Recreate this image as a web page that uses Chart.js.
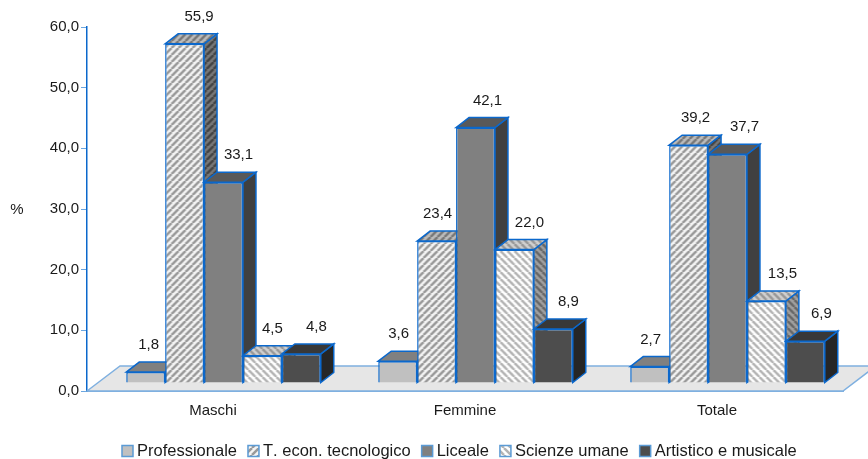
<!DOCTYPE html>
<html>
<head>
<meta charset="utf-8">
<title>Grafico</title>
<script src="https://cdn.jsdelivr.net/npm/chart.js@4"></script>
<style>
	html, body { margin: 0; padding: 0; background: #fff; }
	#box { width: 868px; height: 459px; }
</style>
</head>
<body>
<div id="box"><canvas id="chart"></canvas></div>
<script>
var categories = ['Maschi', 'Femmine', 'Totale'];
var seriesNames = ['Professionale', 'T. econ. tecnologico', 'Liceale', 'Scienze umane', 'Artistico e musicale'];
var professionale = [1.8, 3.6, 2.7];
var tecnologico = [55.9, 23.4, 39.2];
var liceale = [33.1, 42.1, 37.7];
var scienze = [4.5, 22.0, 13.5];
var artistico = [4.8, 8.9, 6.9];
var yTicks = [0, 10, 20, 30, 40, 50, 60];

var BLUE = '#0b68cc';
var FONT = '15px "Liberation Sans", Arial, sans-serif';
var LEGEND_FONT = '16.5px "Liberation Sans", Arial, sans-serif';

// 3d look: where the bars sit on the floor and how deep they are
var shift = { x: 10.5, y: -8 };
var depth = { x: 13, y: -10 };
var floorDepth = { x: 33, y: -25 };

// value labels were placed by hand in the original, x offset from the bar centre
var labelNudge = [[3, 1, 1], [14.5, 1, 7], [15, 12, 17], [10, 15, 16], [15, 15, 16]];

// stripes on a small tile, dir 1 is "/" and -1 is "\"
function hatch(bg, fg, dir) {
	var size = 7;
	var tile = document.createElement('canvas');
	tile.width = size;
	tile.height = size;
	var c = tile.getContext('2d');
	c.fillStyle = bg;
	c.fillRect(0, 0, size, size);
	c.strokeStyle = fg;
	c.lineWidth = 2.5;
	for (var i = -size; i <= size * 2; i += size) {
		c.beginPath();
		if (dir > 0) {
			c.moveTo(i, size);
			c.lineTo(i + size, 0);
		} else {
			c.moveTo(i, 0);
			c.lineTo(i + size, size);
		}
		c.stroke();
	}
	return document.createElement('canvas').getContext('2d').createPattern(tile, 'repeat');
}

var fronts = ['#c0c0c0', hatch('#f4f4f4', '#999999', 1), '#808080', hatch('#ffffff', '#b4b4b4', -1), '#4d4d4d'];
var tops = ['#808080', hatch('#bcbcbc', '#787878', 1), '#595959', hatch('#d0d0d0', '#989898', -1), '#383838'];
var sides = ['#606060', hatch('#787878', '#444444', 1), '#404040', hatch('#a0a0a0', '#686868', -1), '#262626'];
var values = [professionale, tecnologico, liceale, scienze, artistico];

function face(ctx, points, fill) {
	ctx.beginPath();
	ctx.moveTo(points[0][0], points[0][1]);
	for (var i = 1; i < points.length; i++) {
		ctx.lineTo(points[i][0], points[i][1]);
	}
	ctx.closePath();
	ctx.fillStyle = fill;
	ctx.fill();
	ctx.lineWidth = 1.5;
	ctx.strokeStyle = BLUE;
	ctx.stroke();
}

function drawFloor(chart) {
	var ctx = chart.ctx;
	var a = chart.chartArea;
	var backY = a.bottom + floorDepth.y;
	ctx.beginPath();
	ctx.moveTo(a.left, a.bottom);
	ctx.lineTo(a.left + floorDepth.x, backY);
	ctx.lineTo(a.right + floorDepth.x, backY);
	ctx.lineTo(a.right, a.bottom);
	ctx.closePath();
	ctx.fillStyle = '#e6e6e6';
	ctx.fill();
	ctx.lineWidth = 1.5;
	ctx.strokeStyle = '#7fb0e0';
	ctx.stroke();
}

function drawBars(chart) {
	var ctx = chart.ctx;
	ctx.save();
	ctx.translate(shift.x, shift.y);
	chart.data.datasets.forEach(function(ds, d) {
		chart.getDatasetMeta(d).data.forEach(function(bar, i) {
			var half = bar.width / 2;
			var l = bar.x - half, r = bar.x + half, t = bar.y, b = bar.base;
			face(ctx, [[r, t], [r + depth.x, t + depth.y], [r + depth.x, b + depth.y], [r, b]], sides[d]);
			face(ctx, [[l, t], [l + depth.x, t + depth.y], [r + depth.x, t + depth.y], [r, t]], tops[d]);
			bar.draw(ctx);
		});
	});
	ctx.fillStyle = '#1a1a1a';
	ctx.font = FONT;
	ctx.textAlign = 'center';
	ctx.textBaseline = 'middle';
	chart.data.datasets.forEach(function(ds, d) {
		chart.getDatasetMeta(d).data.forEach(function(bar, i) {
			ctx.fillText(ds.data[i].toFixed(1).replace('.', ','), bar.x + labelNudge[d][i], bar.y + depth.y - 17);
		});
	});
	ctx.restore();
}

function drawLegend(chart) {
	var ctx = chart.ctx;
	var x = 122, y = 451;
	ctx.save();
	ctx.font = LEGEND_FONT;
	ctx.fontKerning = 'none';
	ctx.textBaseline = 'middle';
	ctx.textAlign = 'left';
	seriesNames.forEach(function(name, d) {
		ctx.fillStyle = fronts[d];
		ctx.fillRect(x, y - 5.5, 11, 11);
		ctx.lineWidth = 1.5;
		ctx.strokeStyle = '#5b9bd5';
		ctx.strokeRect(x, y - 5.5, 11, 11);
		ctx.fillStyle = '#1a1a1a';
		ctx.fillText(name, x + 15, y);
		x += 15 + ctx.measureText(name).width + 11;
	});
	ctx.restore();
}

var bars3d = {
	id: 'bars3d',
	beforeDatasetsDraw: function(chart) {
		drawFloor(chart);
		drawBars(chart);
		drawLegend(chart);
		var ctx = chart.ctx;
		ctx.save();
		ctx.fillStyle = '#1a1a1a';
		ctx.font = FONT;
		ctx.textAlign = 'center';
		ctx.textBaseline = 'middle';
		ctx.fillText('%', 17, 210);
		ctx.restore();
		return false;
	}
};

var ctx = document.getElementById('chart').getContext('2d');
var chart = new Chart(ctx, {
	type: 'bar',
	data: {
		labels: categories,
		datasets: seriesNames.map(function(name, d) {
			return {
				label: name,
				data: values[d],
				backgroundColor: fronts[d],
				borderColor: BLUE,
				borderWidth: 1.5,
				categoryPercentage: 0.772,
				barPercentage: 1
			};
		})
	},
	options: {
		responsive: true,
		maintainAspectRatio: false,
		animation: false,
		layout: { padding: { top: 27, right: 25, left: 0, bottom: 0 } },
		plugins: {
			legend: { display: false },
			tooltip: { enabled: false }
		},
		scales: {
			x: {
				grid: { display: false },
				border: { color: BLUE, width: 1.5 },
				afterFit: function(scale) { scale.height = 68; },
				ticks: { color: '#1a1a1a', padding: 3, maxRotation: 0, font: { family: '"Liberation Sans"', size: 15 } }
			},
			y: {
				min: 0,
				max: 60,
				afterFit: function(scale) { scale.width = 87; },
				afterBuildTicks: function(scale) {
					scale.ticks = yTicks.map(function(v) { return { value: v }; });
				},
				grid: { drawOnChartArea: false, color: '#6ba6e0', tickLength: 6 },
				border: { color: BLUE, width: 1.5 },
				ticks: {
					color: '#1a1a1a',
					padding: 2,
					font: { family: '"Liberation Sans"', size: 15 },
					callback: function(v) { return v.toFixed(1).replace('.', ','); }
				}
			}
		}
	},
	plugins: [bars3d]
});
</script>
</body>
</html>
